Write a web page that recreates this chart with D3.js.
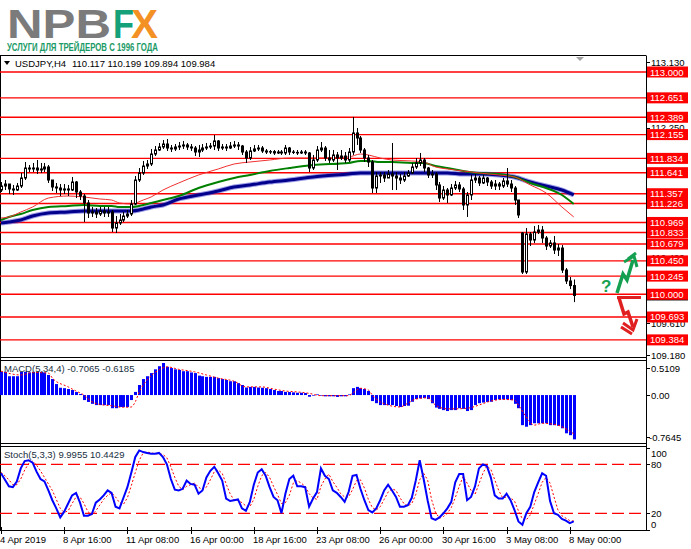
<!DOCTYPE html>
<html><head><meta charset="utf-8">
<script src="https://cdn.jsdelivr.net/npm/d3@7"></script>
<style>
body{margin:0;background:#fff;}
svg{display:block;}
text{font-family:"Liberation Sans",Arial,sans-serif;}
</style>
</head><body>
<svg id="c" width="691" height="549"></svg>
<script>
// ---------------- DATA ----------------
const xLabels = ["4 Apr 2019","8 Apr 16:00","11 Apr 08:00","16 Apr 00:00","18 Apr 16:00","23 Apr 08:00","26 Apr 00:00","30 Apr 16:00","3 May 08:00","8 May 00:00"];
const xLabelBars = [0,16,32,48,64,80,96,112,128,144];

const opens = [111.407,111.461,111.488,111.421,111.407,111.461,111.569,111.704,111.691,111.704,
 111.677,111.691,111.718,111.542,111.448,111.434,111.407,111.421,111.407,111.515,
 111.380,111.326,111.232,111.097,111.110,111.083,111.124,111.097,111.110,110.894,
 110.962,111.002,111.056,111.083,111.218,111.542,111.637,111.731,111.758,111.893,
 111.947,111.988,112.028,111.974,111.961,111.988,112.001,112.015,111.988,111.974,
 111.920,111.947,111.974,111.988,112.001,112.069,111.974,111.988,111.974,112.001,
 112.015,112.001,111.920,111.839,111.934,111.961,111.974,111.934,111.920,111.925,
 111.907,111.920,111.907,111.974,111.920,111.915,111.907,111.920,111.907,111.704,
 111.812,111.947,111.974,111.839,111.812,111.880,111.839,111.866,111.812,111.920,
 112.177,112.109,111.947,111.839,111.785,111.434,111.596,111.610,111.569,111.623,
 111.596,111.569,111.542,111.596,111.637,111.718,111.772,111.812,111.704,111.610,
 111.623,111.475,111.299,111.407,111.340,111.434,111.475,111.421,111.205,111.340,
 111.542,111.569,111.502,111.569,111.515,111.461,111.488,111.461,111.529,111.488,
 111.434,111.272,110.827,110.300,110.813,110.732,110.840,110.867,110.759,110.651,
 110.692,110.597,110.624,110.327,110.179,110.117];
const highs = [111.515,111.542,111.488,111.475,111.502,111.637,111.785,111.745,111.772,111.812,
 111.772,111.772,111.745,111.542,111.502,111.488,111.488,111.475,111.583,111.529,
 111.407,111.353,111.272,111.178,111.164,111.178,111.178,111.178,111.137,111.056,
 111.083,111.110,111.137,111.272,111.596,111.704,111.799,111.812,111.961,112.001,
 112.042,112.082,112.096,112.015,112.028,112.055,112.069,112.042,112.028,112.001,
 112.015,112.028,112.042,112.042,112.150,112.082,112.028,112.028,112.055,112.069,
 112.055,112.015,111.947,111.988,112.015,112.015,112.001,111.961,111.947,111.947,
 111.947,111.947,112.015,111.988,111.947,111.947,111.947,111.947,111.920,111.880,
 112.001,112.055,112.001,111.947,111.947,111.920,111.947,111.920,111.974,112.393,
 112.244,112.136,111.974,111.880,111.812,111.650,111.650,111.650,111.677,112.042,
 111.650,111.623,111.650,111.677,111.772,111.839,111.907,111.839,111.718,111.677,
 111.650,111.515,111.461,111.434,111.488,111.529,111.515,111.448,111.380,111.610,
 111.623,111.596,111.610,111.583,111.542,111.542,111.515,111.569,111.704,111.542,
 111.461,111.272,110.840,110.894,110.840,110.921,110.935,110.921,110.786,110.732,
 110.786,110.678,110.665,110.354,110.233,110.199];
const lows = [111.380,111.407,111.353,111.340,111.394,111.434,111.542,111.650,111.650,111.623,
 111.637,111.650,111.502,111.394,111.367,111.326,111.353,111.326,111.394,111.299,
 111.272,110.975,111.029,111.043,111.029,111.056,111.043,111.043,110.840,110.827,
 110.935,110.975,111.029,111.056,111.205,111.515,111.610,111.691,111.731,111.866,
 111.934,111.961,111.934,111.920,111.934,111.947,111.961,111.947,111.934,111.866,
 111.853,111.920,111.947,111.961,111.947,111.934,111.947,111.934,111.961,111.974,
 111.947,111.880,111.772,111.812,111.920,111.934,111.907,111.893,111.893,111.880,
 111.893,111.880,111.880,111.880,111.893,111.880,111.893,111.880,111.650,111.677,
 111.785,111.920,111.799,111.772,111.785,111.677,111.812,111.772,111.785,111.880,
 112.015,111.907,111.785,111.718,111.367,111.367,111.502,111.515,111.569,111.407,
 111.407,111.488,111.515,111.583,111.623,111.691,111.731,111.650,111.569,111.569,
 111.407,111.245,111.272,111.232,111.326,111.407,111.380,111.137,111.043,111.272,
 111.502,111.461,111.488,111.461,111.421,111.407,111.407,111.434,111.448,111.380,
 111.205,111.029,110.273,110.273,110.651,110.692,110.813,110.692,110.597,110.624,
 110.543,110.516,110.287,110.138,110.070,109.894];
const closes = [111.461,111.488,111.421,111.407,111.461,111.569,111.704,111.691,111.704,111.677,
 111.691,111.718,111.542,111.448,111.434,111.407,111.421,111.407,111.515,111.380,
 111.326,111.232,111.097,111.110,111.083,111.124,111.097,111.110,110.894,110.962,
 111.002,111.056,111.083,111.218,111.542,111.637,111.731,111.758,111.893,111.947,
 111.988,112.028,111.974,111.961,111.988,112.001,112.015,111.988,111.974,111.920,
 111.947,111.974,111.988,112.001,112.069,111.974,111.988,111.974,112.001,112.015,
 112.001,111.920,111.839,111.934,111.961,111.974,111.934,111.920,111.925,111.907,
 111.920,111.907,111.974,111.920,111.915,111.907,111.920,111.907,111.704,111.812,
 111.947,111.974,111.839,111.812,111.880,111.839,111.866,111.812,111.920,112.177,
 112.109,111.947,111.839,111.785,111.434,111.596,111.610,111.569,111.623,111.596,
 111.569,111.542,111.596,111.637,111.718,111.772,111.812,111.704,111.610,111.623,
 111.475,111.299,111.407,111.340,111.434,111.475,111.421,111.205,111.340,111.542,
 111.569,111.502,111.569,111.515,111.461,111.488,111.461,111.529,111.488,111.434,
 111.272,111.070,110.300,110.813,110.732,110.840,110.867,110.759,110.651,110.692,
 110.597,110.624,110.327,110.179,110.117,109.984];

// moving averages (read at sample bars)
const maBars  = [0,2,5,8,12,17,21,25,28,30,33,36,38,41,45,50,55,59,63,68,73,79,88,91,93,96,99,104,107,110,113,117,121,126,130,134,138,142,145];
const maRed   = [111.029,111.043,111.110,111.178,111.299,111.326,111.313,111.286,111.272,111.232,111.218,111.272,111.313,111.407,111.502,111.610,111.691,111.758,111.785,111.812,111.839,111.839,111.853,111.893,111.880,111.839,111.812,111.799,111.785,111.718,111.691,111.664,111.637,111.610,111.583,111.475,111.367,111.178,111.043];
const maGreen = [111.002,111.043,111.083,111.137,111.178,111.192,111.205,111.192,111.192,111.178,111.178,111.205,111.232,111.272,111.326,111.434,111.515,111.569,111.610,111.664,111.704,111.745,111.772,111.799,111.799,111.785,111.785,111.772,111.772,111.731,111.704,111.664,111.637,111.623,111.583,111.502,111.434,111.340,111.218];
const maBlue  = [110.962,110.975,111.002,111.056,111.097,111.110,111.124,111.124,111.124,111.124,111.124,111.151,111.178,111.205,111.286,111.340,111.394,111.448,111.475,111.515,111.542,111.583,111.623,111.637,111.637,111.637,111.637,111.637,111.637,111.637,111.637,111.623,111.623,111.610,111.583,111.515,111.461,111.407,111.340];

const levels = [113.000,112.651,112.389,112.155,111.834,111.641,111.357,111.226,110.969,110.833,110.679,110.450,110.245,110.000,109.693,109.384];
const priceTicks = [113.130,112.250,110.490,109.610,109.180];
const lastPrice = 109.984;

const macdHist = [0.37,0.37,0.30,0.30,0.30,0.37,0.37,0.36,0.37,0.37,
 0.37,0.36,0.32,0.255,0.175,0.116,0.11,0.096,0.08,0.048,
 0.016,-0.08,-0.11,-0.14,-0.16,-0.16,-0.16,-0.16,-0.21,-0.21,
 -0.19,-0.19,-0.19,-0.08,0.05,0.16,0.255,0.30,0.35,0.41,
 0.46,0.5109,0.45,0.43,0.41,0.40,0.38,0.38,0.36,0.35,
 0.31,0.30,0.29,0.29,0.29,0.27,0.255,0.24,0.22,0.22,
 0.19,0.16,0.12,0.13,0.13,0.12,0.116,0.11,0.096,0.08,
 0.064,0.064,0.05,0.048,0.043,0.037,0.037,0.032,-0.027,-0.01,
 0.01,-0.01,-0.02,-0.02,-0.02,-0.03,-0.02,-0.02,0.01,0.11,
 0.13,0.11,0.096,0.064,-0.096,-0.13,-0.16,-0.16,-0.16,-0.16,
 -0.175,-0.19,-0.175,-0.17,-0.107,-0.064,-0.053,-0.048,-0.064,-0.13,
 -0.20,-0.22,-0.24,-0.255,-0.24,-0.24,-0.21,-0.22,-0.255,-0.24,
 -0.16,-0.13,-0.12,-0.11,-0.107,-0.08,-0.07,-0.07,-0.07,-0.08,
 -0.14,-0.21,-0.48,-0.505,-0.48,-0.45,-0.45,-0.45,-0.45,-0.48,
 -0.48,-0.49,-0.53,-0.61,-0.64,-0.7065];
const macdSigBars = [0,5,8,12,13,17,19,21,23,25,28,31,33,34,35,37,40,42,45,49,52,55,59,62,66,69,72,75,78,81,85,88,89,91,93,94,96,98,101,103,105,108,110,113,115,118,119,121,124,127,130,131,133,135,137,141,142,145];
const macdSig = [0.38,0.32,0.36,0.35,0.27,0.13,0.064,0,-0.107,-0.15,-0.17,-0.196,-0.19,-0.107,0.05,0.24,0.40,0.45,0.41,0.37,0.32,0.27,0.22,0.13,0.13,0.096,0.064,0.05,0.027,-0.01,-0.01,-0.01,0.027,0.107,0.08,0,-0.107,-0.16,-0.19,-0.13,-0.064,-0.043,-0.16,-0.22,-0.22,-0.21,-0.20,-0.16,-0.096,-0.07,-0.08,-0.16,-0.35,-0.48,-0.45,-0.48,-0.505,-0.6185];
const macdTicks = [0.5109,0.00,-0.7645];

const stochMain = [69,61,53,52,59,75,84,85,82,71,62,59,48,36,26,15,22,32,42,45,
 33,17,17,19,33,37,42,48,45,28,26,39,52,70,89,97,95,94,93,93,
 94,89,80,62,49,48,50,60,56,55,44,48,64,72,77,69,60,38,35,36,
 37,26,23,34,55,70,74,66,52,40,36,20,44,62,66,53,53,52,28,38,
 46,75,66,62,48,45,40,34,46,66,67,50,36,24,21,26,36,48,55,48,
 40,28,28,30,39,60,85,62,36,14,12,15,20,26,34,58,68,68,36,40,
 53,75,80,78,64,42,38,38,44,36,24,10,6,20,28,46,58,69,66,35,
 20,18,13,11,8,9.9955];
const stochSig = [70,66,61,55,55,62,73,81,84,79,72,64,56,48,37,26,21,23,32,40,
 40,32,22,18,23,30,37,42,45,40,33,31,39,54,70,85,94,95,94,93,
 93,92,88,77,64,53,49,53,55,57,52,49,52,61,71,73,69,56,44,36,
 36,33,29,28,37,53,66,70,64,53,43,32,33,42,57,60,57,53,44,39,
 37,53,62,68,59,52,44,40,40,49,60,61,51,37,27,24,28,37,46,50,
 48,39,32,29,32,43,61,69,61,37,21,14,16,20,27,39,53,65,57,48,
 43,56,69,78,74,61,48,39,40,39,35,23,13,12,18,31,44,58,64,57,
 40,24,17,14,11,10.4429];
const stochLevels = [80,20];
const stochTicks = [100,80,20,0];

// ---------------- CHART ----------------
const svg = d3.select('#c');
const R = 646; // right edge of plot area
const x = d3.scaleLinear().domain([0,145]).range([1,573.75]);
const y = d3.scaleLinear().domain([109.18,113.216]).range([355,56]);
const yM = d3.scaleLinear().domain([-0.7645,0.5109]).range([443,363]);
const yS = d3.scaleLinear().domain([0,100]).range([529.6,448]);

const defs = svg.append('defs');
function clip(id,x0,y0,w,h){defs.append('clipPath').attr('id',id).append('rect').attr('x',x0).attr('y',y0).attr('width',w).attr('height',h);}
clip('cMain',0,56,R,302); clip('cMacd',0,361,R,83); clip('cSto',0,447,R,83);

// ---- logo ----
const logo = svg.append('g');
logo.append('text').attr('x',7).attr('y',38).attr('font-family','DejaVu Sans').attr('font-weight','bold')
  .attr('font-size',41).attr('fill','#7b7b7b').attr('textLength',104).attr('lengthAdjust','spacingAndGlyphs').text('NPB');
logo.append('text').attr('x',113).attr('y',38).attr('font-family','DejaVu Sans').attr('font-weight','bold')
  .attr('font-size',41).attr('fill','#14a078').attr('textLength',21).attr('lengthAdjust','spacingAndGlyphs').text('F');
logo.append('text').attr('x',131).attr('y',38).attr('font-family','DejaVu Sans').attr('font-weight','bold')
  .attr('font-size',41).attr('fill','#f39124').attr('textLength',27).attr('lengthAdjust','spacingAndGlyphs').text('X');
logo.append('text').attr('x',7).attr('y',51).attr('font-weight','bold').attr('font-size',10)
  .attr('fill','#1a9a66').attr('textLength',151).attr('lengthAdjust','spacingAndGlyphs').text('УСЛУГИ ДЛЯ ТРЕЙДЕРОВ С 1996 ГОДА');

// ---- frames ----
const fr = svg.append('g').attr('stroke','#000').attr('stroke-width',1).attr('fill','none');
[[0,55.5,R,55.5],[0,357.5,R,357.5],[0,360.5,R,360.5],[0,443.5,R,443.5],[0,446.5,R,446.5],[0,530.5,R,530.5],
 [0.5,55.5,0.5,530.5],[R+0.5,55.5,R+0.5,530.5]].forEach(l=>fr.append('line').attr('x1',l[0]).attr('y1',l[1]).attr('x2',l[2]).attr('y2',l[3]));

// ---- main panel ----
const main = svg.append('g').attr('clip-path','url(#cMain)');
main.selectAll('line.lvl').data(levels).enter().append('line')
  .attr('x1',0).attr('x2',R).attr('y1',d=>y(d)).attr('y2',d=>y(d))
  .attr('stroke','#ff0000').attr('stroke-width',1.4);

function maLine(vals){return d3.line().x((d,i)=>x(maBars[i])).y(d=>y(d)).curve(d3.curveMonotoneX)(vals);}
main.append('path').attr('d',maLine(maBlue)).attr('fill','none').attr('stroke','#3a3ad0').attr('stroke-width',5).attr('opacity',0.5);
main.append('path').attr('d',maLine(maBlue)).attr('fill','none').attr('stroke','#00008c').attr('stroke-width',3);
main.append('path').attr('d',maLine(maGreen)).attr('fill','none').attr('stroke','#008000').attr('stroke-width',2);
main.append('path').attr('d',maLine(maRed)).attr('fill','none').attr('stroke','#f03030').attr('stroke-width',1);

const idx = d3.range(closes.length);
const cg = main.append('g');
cg.selectAll('line.w').data(idx).enter().append('line')
  .attr('x1',i=>Math.round(x(i))+0.5).attr('x2',i=>Math.round(x(i))+0.5)
  .attr('y1',i=>y(highs[i])).attr('y2',i=>y(lows[i])).attr('stroke','#000').attr('stroke-width',1);
cg.selectAll('rect.b').data(idx).enter().append('rect')
  .attr('x',i=>Math.round(x(i))-0.5).attr('width',2)
  .attr('y',i=>Math.min(y(opens[i]),y(closes[i])))
  .attr('height',i=>Math.max(0.01,Math.abs(y(opens[i])-y(closes[i]))))
  .attr('fill',i=>closes[i]>=opens[i]?'#fff':'#000').attr('stroke','#000').attr('stroke-width',1);

// header
svg.append('path').attr('d','M4,61 L10,61 L7,65 Z').attr('fill','#000');
svg.append('text').attr('x',15).attr('y',67).attr('font-size',9.5).attr('fill','#000').text('USDJPY,H4');
svg.append('text').attr('x',72).attr('y',67).attr('font-size',9.5).attr('fill','#000').text('110.117 110.199 109.894 109.984');
// shift marker
svg.append('path').attr('d','M576,57 L584,57 L580,61 Z').attr('fill','#a0a0a0');

// price axis
const ax = svg.append('g');
priceTicks.forEach(p=>{
  const yy = p===109.18 ? 355 : y(p);
  ax.append('line').attr('x1',R).attr('x2',R+4).attr('y1',Math.round(yy)+0.5).attr('y2',Math.round(yy)+0.5).attr('stroke','#000');
  ax.append('text').attr('x',651).attr('y',yy+3.5).attr('font-size',9.5).attr('fill','#000').text(p.toFixed(3));
});
// current price tag (its text is hidden under the 110.000 tag in the reference)
ax.append('rect').attr('x',647).attr('y',y(lastPrice)-5).attr('width',41).attr('height',10).attr('fill','#000');
// level tags
levels.forEach(p=>{
  ax.append('rect').attr('x',647).attr('y',y(p)-5.5).attr('width',41).attr('height',11).attr('fill','#ff0000');
  ax.append('text').attr('x',650).attr('y',y(p)+3.5).attr('font-size',9.5).attr('fill','#fff').text(p.toFixed(3));
});

// arrows annotation
const an = svg.append('g');
an.append('text').attr('x',601).attr('y',292).attr('font-size',17).attr('font-weight','bold').attr('fill','#14a050').text('?');
an.append('path').attr('d','M617,293 L623,274 L627,280 L633,260').attr('fill','none').attr('stroke','#14a050').attr('stroke-width',3.5).attr('stroke-linejoin','miter');
an.append('path').attr('d','M624,262 L634,256 L637,267 M628,259 L636,253').attr('fill','none').attr('stroke','#14a050').attr('stroke-width',3);
an.append('path').attr('d','M617,297.5 L641,297.5').attr('stroke','#e02020').attr('stroke-width',3);
an.append('path').attr('d','M619,298 L624,314 L628,312 L633,327').attr('fill','none').attr('stroke','#e02020').attr('stroke-width',3.5);
an.append('path').attr('d','M623,323 L633,330 L637,319 M621,327 L632,334').attr('fill','none').attr('stroke','#e02020').attr('stroke-width',3);

// ---- MACD ----
const mg = svg.append('g').attr('clip-path','url(#cMacd)');
mg.selectAll('rect').data(idx).enter().append('rect')
  .attr('x',i=>Math.round(x(i))-1).attr('width',3)
  .attr('y',i=>Math.min(yM(0),yM(macdHist[i])))
  .attr('height',i=>Math.abs(yM(macdHist[i])-yM(0)))
  .attr('fill','#0000ff');
mg.append('path').attr('d',d3.line().x((d,i)=>x(macdSigBars[i])).y(d=>yM(d)).curve(d3.curveMonotoneX)(macdSig))
  .attr('fill','none').attr('stroke','#ff0000').attr('stroke-width',1).attr('stroke-dasharray','2,2');
svg.append('text').attr('x',4).attr('y',372).attr('font-size',9.5).attr('fill','#203040').text('MACD(5,34,4) -0.7065 -0.6185');
macdTicks.forEach((v,k)=>{
  const yy = k===0? 368 : (k===2? 437 : yM(v));
  svg.append('line').attr('x1',R).attr('x2',R+4).attr('y1',Math.round(yy)+0.5).attr('y2',Math.round(yy)+0.5).attr('stroke','#000');
  svg.append('text').attr('x',k===2?649:651).attr('y',yy+3.5).attr('font-size',9.5).attr('fill','#000').text(k===1?'0.00':v.toFixed(4));
});

// ---- Stochastic ----
const sg = svg.append('g').attr('clip-path','url(#cSto)');
stochLevels.forEach(l=>sg.append('line').attr('x1',0).attr('x2',R).attr('y1',yS(l)).attr('y2',yS(l))
  .attr('stroke','#ff0000').attr('stroke-width',1.2).attr('stroke-dasharray','12,5'));
sg.append('path').attr('d',d3.line().x((d,i)=>x(i)).y(d=>yS(d))(stochSig))
  .attr('fill','none').attr('stroke','#ff0000').attr('stroke-width',1).attr('stroke-dasharray','2,2');
sg.append('path').attr('d',d3.line().x((d,i)=>x(i)).y(d=>yS(d))(stochMain))
  .attr('fill','none').attr('stroke','#0000ff').attr('stroke-width',2);
svg.append('text').attr('x',4).attr('y',458).attr('font-size',9.5).attr('fill','#203040').text('Stoch(5,3,3) 9.9955 10.4429');
stochTicks.forEach(v=>{
  const yy = v===100?453:(v===0?524:yS(v));
  svg.append('line').attr('x1',R).attr('x2',R+4).attr('y1',Math.round(yS(v))+0.5).attr('y2',Math.round(yS(v))+0.5).attr('stroke','#000');
  svg.append('text').attr('x',651).attr('y',yy+3.5).attr('font-size',9.5).attr('fill','#000').text(String(v));
});

// ---- time axis ----
xLabelBars.forEach((b,k)=>{
  const xx = Math.round(x(b))+0.5;
  svg.append('line').attr('x1',xx).attr('x2',xx).attr('y1',527).attr('y2',534).attr('stroke','#000');
  svg.append('text').attr('x',xx-1.5).attr('y',543).attr('font-size',9.5).attr('fill','#000').text(xLabels[k]);
});
</script>
</body></html>
